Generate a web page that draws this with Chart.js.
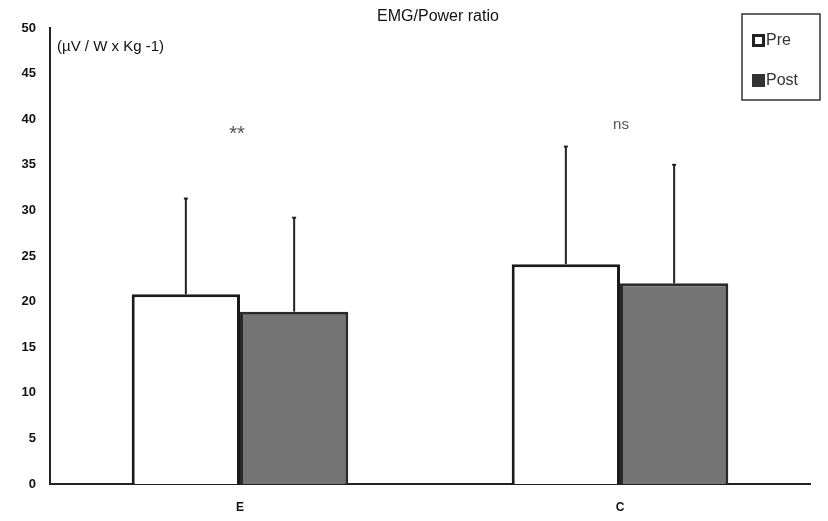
<!DOCTYPE html>
<html>
<head>
<meta charset="utf-8">
<script src="https://cdn.jsdelivr.net/npm/chart.js@4"></script>
<style>
	html, body { margin: 0; padding: 0; background: #fff; }
	#wrap { width: 828px; height: 521px; }
</style>
</head>
<body>
<div id="wrap"><canvas id="chart" width="828" height="521"></canvas></div>
<script>
// Data
const categories = ["E", "C"];
const preMean = [20.8, 24.1];
const preSD = [10.5, 12.9];
const postMean = [18.9, 22.0];
const postSD = [10.3, 13.0];
const yTicks = [0, 5, 10, 15, 20, 25, 30, 35, 40, 45, 50];
const marks = ["**", "ns"];

const sdByDataset = [preSD, postSD];

// Error bars (upper only) drawn on top of each bar
const errorBars = {
	id: "errorBars",
	afterDatasetsDraw(chart) {
		const ctx = chart.ctx;
		const y = chart.scales.y;
		ctx.save();
		ctx.strokeStyle = "#222";
		ctx.lineWidth = 2;
		chart.data.datasets.forEach((ds, i) => {
			const meta = chart.getDatasetMeta(i);
			meta.data.forEach((bar, j) => {
				const top = y.getPixelForValue(ds.data[j] + sdByDataset[i][j]);
				ctx.beginPath();
				ctx.moveTo(bar.x, bar.y);
				ctx.lineTo(bar.x, top);
				ctx.stroke();
				ctx.beginPath();
				ctx.moveTo(bar.x - 2, top);
				ctx.lineTo(bar.x + 2, top);
				ctx.stroke();
			});
		});
		ctx.restore();
	},
};

// Title, unit label, significance marks and boxed legend
const extras = {
	id: "extras",
	afterDraw(chart) {
		const ctx = chart.ctx;
		const x = chart.scales.x;
		ctx.save();
		ctx.fillStyle = "#111";
		ctx.textBaseline = "middle";

		ctx.font = "16px 'Liberation Sans', Arial, sans-serif";
		ctx.textAlign = "center";
		ctx.fillText("EMG/Power ratio", 438, 17);

		ctx.textAlign = "left";
		ctx.font = "15px 'Liberation Sans', Arial, sans-serif";
		ctx.fillText("(\u00b5V / W x Kg -1)", 57, 47);

		ctx.fillStyle = "#555";
		ctx.textAlign = "center";
		marks.forEach((m, i) => {
			const cx = x.getPixelForValue(i) - 3;
			if (m === "ns") {
				ctx.font = "15px 'Liberation Sans', Arial, sans-serif";
				ctx.fillText(m, cx + 4, 125);
			} else {
				ctx.font = "20px 'Liberation Sans', Arial, sans-serif";
				ctx.fillText(m, cx, 134);
			}
		});

		// legend box
		ctx.strokeStyle = "#333";
		ctx.lineWidth = 1.5;
		ctx.strokeRect(742, 14, 78, 86);
		ctx.font = "16px 'Liberation Sans', Arial, sans-serif";
		ctx.textAlign = "left";
		ctx.fillStyle = "#222";
		ctx.fillRect(752, 34, 13, 13);
		ctx.fillStyle = "#fff";
		ctx.fillRect(755, 37, 7, 7);
		ctx.fillStyle = "#333";
		ctx.fillRect(752, 74, 13, 13);
		ctx.fillText("Pre", 766, 41);
		ctx.fillText("Post", 766, 81);
		ctx.restore();
	},
};

new Chart(document.getElementById("chart"), {
	type: "bar",
	data: {
		labels: categories,
		datasets: [
			{
				label: "Pre",
				data: preMean,
				backgroundColor: "#ffffff",
				borderColor: "#1a1a1a",
				borderWidth: 3,
			},
			{
				label: "Post",
				data: postMean,
				backgroundColor: "#747474",
				borderColor: "#2a2a2a",
				borderWidth: 3,
			},
		],
	},
	options: {
		responsive: false,
		animation: false,
		layout: { padding: { top: 28, right: 18, bottom: 0, left: 0 } },
		plugins: {
			legend: { display: false },
			tooltip: { enabled: false },
			title: { display: false },
		},
		datasets: {
			bar: { categoryPercentage: 0.57, barPercentage: 1 },
		},
		scales: {
			x: {
				grid: { display: false, drawTicks: false },
				border: { color: "#222", width: 2 },
				ticks: {
					color: "#111",
					padding: 16,
					font: { family: "'Liberation Sans', Arial", size: 12, weight: "bold" },
				},
				afterFit(scale) { scale.height = 37; },
			},
			y: {
				min: 0,
				max: 50,
				afterBuildTicks(scale) { scale.ticks = yTicks.map((v) => ({ value: v })); },
				grid: { display: false, drawTicks: true, tickLength: 4, tickColor: "#444" },
				border: { color: "#222", width: 2 },
				ticks: {
					color: "#111",
					padding: 10,
					font: { family: "'Liberation Sans Narrow', 'Liberation Sans', Arial", size: 13, weight: "bold" },
				},
				afterFit(scale) { scale.width = 50; },
			},
		},
	},
	plugins: [errorBars, extras],
});
</script>
</body>
</html>
